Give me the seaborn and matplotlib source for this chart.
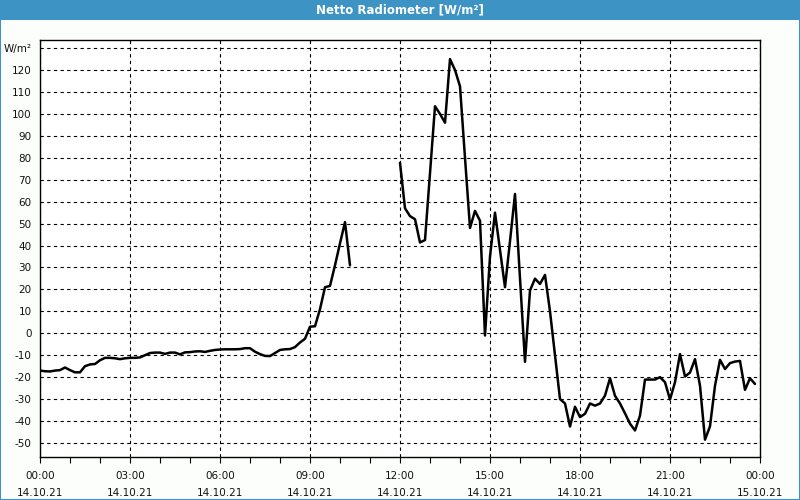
import numpy as np
import pandas as pd
import matplotlib
matplotlib.use("Agg")
import matplotlib.pyplot as plt
from matplotlib.patches import Rectangle
import seaborn as sns

title = "Netto Radiometer [W/m²]"
unit_label = "W/m²"

# 10-minute samples, 00:00 .. 10:20 (segment 1)
seg1_values = [-17, -17.3, -17.4, -17, -16.8, -15.6, -16.8, -17.8, -17.8, -15,
               -14.2, -14, -12.3, -11.2, -11.2, -11.4, -11.8, -11.4, -11.2, -11.2,
               -11, -10, -9, -8.8, -8.8, -9.4, -8.8, -8.8, -9.6, -8.7,
               -8.6, -8.3, -8.2, -8.5, -8, -7.6, -7.4, -7.3, -7.3, -7.3,
               -7.2, -6.8, -6.8, -8.4, -9.5, -10.3, -10.4, -9, -7.6, -7.3,
               -7.2, -6.3, -4.2, -2.5, 3, 3.2, 11, 21, 21.6, 31,
               41, 50.7, 31]
seg1_start_hour = 0.0

# 10-minute samples, 12:00 .. 23:50 (segment 2)
seg2_values = [77.7, 57, 53.4, 52, 41.4, 42.5, 73, 103.5, 100, 96,
               125, 120, 112.6, 80, 48, 55.8, 51.3, -1, 35, 55,
               38, 21, 42, 63.5, 25, -13, 19.5, 24.9, 22.5, 26.6,
               10, -10, -30, -32, -42.5, -33.5, -38.2, -36.7, -32, -33,
               -32, -28.4, -20.5, -28.5, -32, -36.5, -41.2, -44.3, -37.5, -21.1,
               -21.1, -21.1, -20, -22.3, -30.2, -22.3, -9.5, -19.7, -17.9, -11.8,
               -23.9, -48.5, -42.4, -23.9, -12.1, -16.3, -13.6, -12.9, -12.6, -25.8,
               -20.5, -23.1]
seg2_start_hour = 12.0

x_tick_hours = [0, 3, 6, 9, 12, 15, 18, 21, 24]
x_tick_times = ["00:00", "03:00", "06:00", "09:00", "12:00", "15:00", "18:00", "21:00", "00:00"]
x_tick_dates = ["14.10.21"] * 8 + ["15.10.21"]
y_ticks = list(range(-50, 131, 10))

step = 10 / 60
df = pd.concat([
    pd.DataFrame({"hour": seg1_start_hour + step * np.arange(len(seg1_values)),
                  "value": seg1_values, "seg": 1}),
    pd.DataFrame({"hour": seg2_start_hour + step * np.arange(len(seg2_values)),
                  "value": seg2_values, "seg": 2}),
], ignore_index=True)

sns.set_theme(style="white")
plt.rcParams["font.family"] = ["DejaVu Sans"]

fig = plt.figure(figsize=(8, 5), dpi=100)
fig.patch.set_facecolor("#fcfefc")

# title bar and window border
fig.patches.append(Rectangle((0, 1 - 20 / 500), 1, 20 / 500, transform=fig.transFigure,
                             facecolor="#3c93c4", edgecolor="none", zorder=0))
fig.patches.append(Rectangle((0.0006, 0.001), 0.9988, 0.998, transform=fig.transFigure,
                             facecolor="none", edgecolor="#3c93c4", linewidth=1.5, zorder=0))
fig.text(0.5, 1 - 10 / 500, title, ha="center", va="center", color="white",
         fontsize=8.5, fontweight="bold")

ax = fig.add_axes([40 / 800, 1 - 457 / 500, 720 / 800, 417 / 500])
ax.set_facecolor("white")

sns.lineplot(data=df, x="hour", y="value", units="seg", estimator=None,
             color="black", linewidth=1.8, ax=ax, legend=False)

ax.set_xlim(0, 24)
ax.set_ylim(-56.4, 133.7)
ax.set_xlabel("")
ax.set_ylabel("")

ax.set_xticks(x_tick_hours)
ax.set_xticklabels([f"{t}\n{d}" for t, d in zip(x_tick_times, x_tick_dates)],
                   fontsize=7.5, linespacing=1.9, color="#111111")
ax.set_xticks(range(0, 25), minor=True)
ax.set_yticks(y_ticks)
ax.set_yticklabels([str(v) if v != 130 else unit_label for v in y_ticks],
                   fontsize=7.5, color="#111111")

ax.tick_params(axis="x", which="both", direction="out", length=4, width=0.8,
               color="black", pad=6, bottom=True)
ax.tick_params(axis="y", which="both", length=0, pad=6, left=True)

ax.grid(True, which="major", axis="both", color="black", linestyle=(0, (3, 3)),
        linewidth=0.8)
for s in ax.spines.values():
    s.set_color("black")
    s.set_linewidth(1.0)

fig.savefig("out.png", dpi=100, facecolor=fig.get_facecolor())
